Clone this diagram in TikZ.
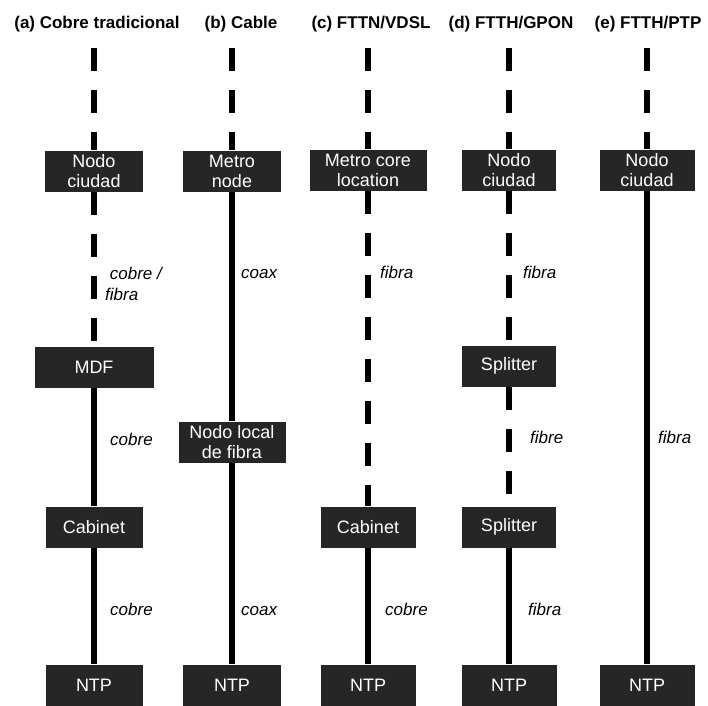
\documentclass[tikz,border=0pt]{standalone}
\usepackage{fontspec}
\setmainfont{Liberation Sans}

\begin{document}
\begin{tikzpicture}[x=1pt,y=-1pt,
    box/.style={fill=black!85,text=white,align=center,inner sep=0pt,minimum height=41pt,font=\fontsize{18}{20}\selectfont},
    lbl/.style={anchor=base west,inner sep=0pt,align=left,font=\fontsize{17}{21}\selectfont\itshape},
    ttl/.style={anchor=base,inner sep=0pt,font=\fontsize{17}{20}\selectfont\bfseries},
    cable/.style={line width=6pt},
    fib/.style={line width=6pt,dash pattern=on 23pt off 19pt}]
            \useasboundingbox (0,0) rectangle (708,705);
            % titles
            \node[ttl] at (97,28) (ta) {(a) Cobre tradicional};
            \node[ttl] at (241,28) (tb) {(b) Cable};
            \node[ttl] at (371,28) (tc) {(c) FTTN/VDSL};
            \node[ttl] at (511,28) (td) {(d) FTTH/GPON};
            \node[ttl] at (648,28) (te) {(e) FTTH/PTP};
            % (a)
            \coordinate (a0) at (94,48);
            \node[box,minimum width=98pt] at (94,171) (a1) {Nodo\\ciudad};
            \node[box,minimum width=119pt] at (94,367) (a2) {MDF};
            \node[box,minimum width=97pt] at (94,527) (a3) {Cabinet};
            \node[box,minimum width=97pt] at (94,685) (a4) {NTP};
            \draw[fib] (a0) -- (a1);
            \draw[fib] (a1) -- (a2);
            \draw[cable] (a2) -- (a3);
            \draw[cable] (a3) -- (a4);
            \node[lbl] at (105,300) (la1) {\ cobre /\\fibra};
            \node[lbl] at (110,445) (la2) {cobre};
            \node[lbl] at (110,615) (la3) {cobre};
            % (b)
            \coordinate (b0) at (232,48);
            \node[box,minimum width=98pt] at (232,171) (b1) {Metro\\node};
            \node[box,minimum width=107pt] at (232,442) (b2) {Nodo local\\de fibra};
            \node[box,minimum width=98pt] at (232,685) (b3) {NTP};
            \draw[fib] (b0) -- (b1);
            \draw[cable] (b1) -- (b2);
            \draw[cable] (b2) -- (b3);
            \node[lbl] at (241,278) (lb1) {coax};
            \node[lbl] at (241,615) (lb2) {coax};
            % (c)
            \coordinate (c0) at (368,48);
            \node[box,minimum width=117pt] at (368,170) (c1) {Metro core\\location};
            \node[box,minimum width=95pt] at (368,527) (c2) {Cabinet};
            \node[box,minimum width=95pt] at (368,685) (c3) {NTP};
            \draw[fib] (c0) -- (c1);
            \draw[fib] (c1) -- (c2);
            \draw[cable] (c2) -- (c3);
            \node[lbl] at (380,278) (lc1) {fibra};
            \node[lbl] at (385,615) (lc2) {cobre};
            % (d)
            \coordinate (d0) at (509,48);
            \node[box,minimum width=94pt] at (509,170) (d1) {Nodo\\ciudad};
            \node[box,minimum width=94pt] at (509,366) (d2) {Splitter};
            \node[box,minimum width=94pt] at (509,527) (d3) {Splitter};
            \node[box,minimum width=95pt] at (509,685) (d4) {NTP};
            \draw[fib] (d0) -- (d1);
            \draw[fib] (d1) -- (d2);
            \draw[fib] (d2) -- (d3);
            \draw[cable] (d3) -- (d4);
            \node[lbl] at (523,278) (ld1) {fibra};
            \node[lbl] at (530,443) (ld2) {fibre};
            \node[lbl] at (528,615) (ld3) {fibra};
            % (e)
            \coordinate (e0) at (647,48);
            \node[box,minimum width=95pt] at (647,170) (e1) {Nodo\\ciudad};
            \node[box,minimum width=95pt] at (647,685) (e2) {NTP};
            \draw[fib] (e0) -- (e1);
            \draw[cable] (e1) -- (e2);
            \node[lbl] at (658,443) (le1) {fibra};
        \end{tikzpicture}
\end{document}
